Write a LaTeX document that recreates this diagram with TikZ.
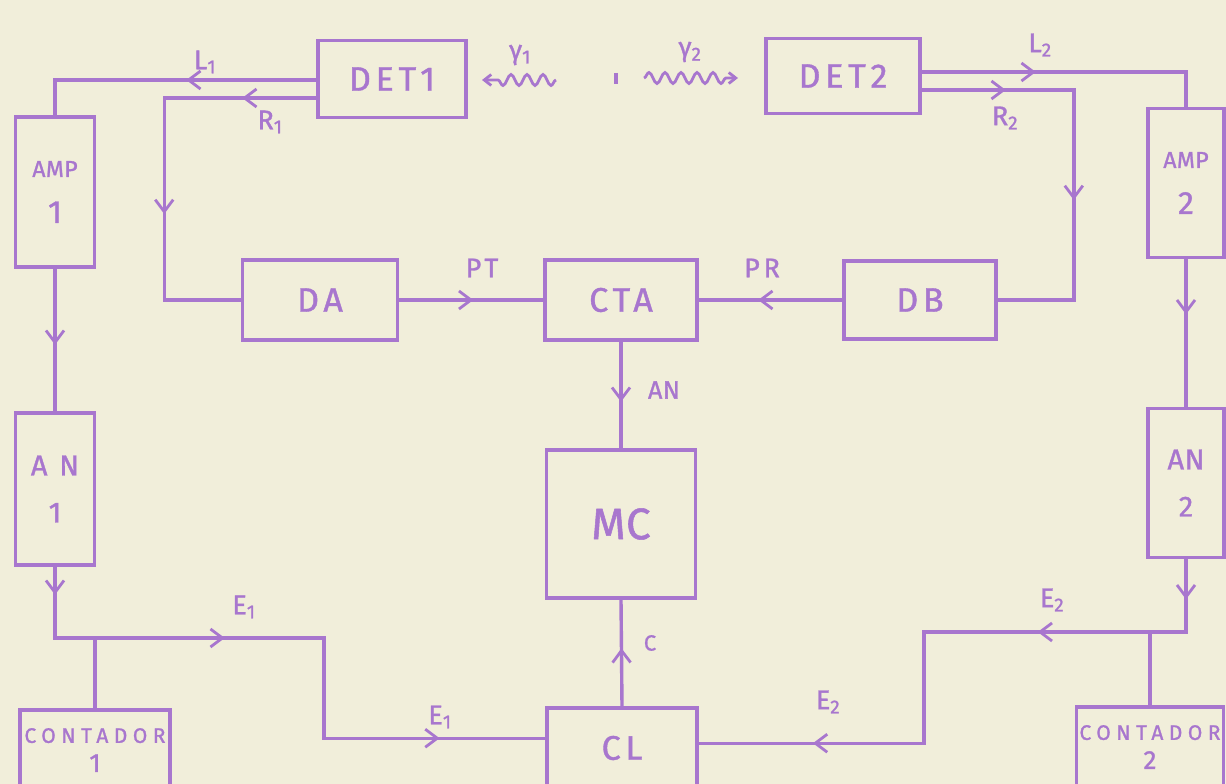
\documentclass[tikz,border=0pt]{standalone}
\usepackage{fontspec}
\newfontfamily\hand{Fira Sans}[LetterSpace=14,FakeBold=1.2]
\newfontfamily\handtight{Fira Sans}[LetterSpace=2,FakeBold=1.2]
\newfontfamily\handwide{Fira Sans}[LetterSpace=26,FakeBold=1.2]
\usetikzlibrary{arrows.meta,decorations.markings,decorations.pathmorphing,calc}
\definecolor{ink}{RGB}{168,118,206}
\definecolor{paper}{RGB}{241,238,218}
\tikzset{
  blk/.style={draw=ink, line width=3.6pt, inner sep=0pt, text=ink, align=center,
    font=\hand\fontsize{34}{36}\selectfont},
  wire/.style={draw=ink, line width=3.4pt},
  lbl/.style={text=ink, inner sep=0pt, font=\hand\fontsize{27}{29}\selectfont},
  marr/.style={postaction={decorate, decoration={markings,
    mark=at position #1 with {\arrow{Straight Barb[length=12pt,width=18pt,line width=2.8pt]}}}}},
  wave/.style={draw=ink, line width=2.8pt, decorate,
    decoration={snake, amplitude=5.5pt, segment length=16pt, post length=10pt}},
}
\begin{document}
\begin{tikzpicture}[x=1pt,y=-1pt]
\useasboundingbox (0,0) rectangle (1226,784);
\fill[paper] (0,0) rectangle (1226,784);
\clip (0,0) rectangle (1226,784);

% blocks
\node[blk, minimum width=148pt, minimum height=77pt] (DET1) at (392,79) {DET1};
\node[blk, minimum width=154pt, minimum height=75pt] (DET2) at (843,76) {DET2};
\node[blk, minimum width=79pt, minimum height=150pt, font=\handtight\fontsize{23}{46}\selectfont] (AMP1) at (55,192) {AMP\\{\fontsize{32}{46}\selectfont 1}};
\node[blk, minimum width=76pt, minimum height=149pt, font=\handtight\fontsize{23}{46}\selectfont] (AMP2) at (1186,183) {AMP\\{\fontsize{32}{46}\selectfont 2}};
\node[blk, minimum width=155pt, minimum height=80pt] (DA) at (320,300) {DA};
\node[blk, minimum width=152pt, minimum height=80pt] (CTA) at (621,300) {CTA};
\node[blk, minimum width=152pt, minimum height=78pt] (DB) at (920,300) {DB};
\node[blk, minimum width=149pt, minimum height=148pt, font=\handtight\fontsize{44}{48}\selectfont] (MC) at (621,524) {MC};
\node[blk, minimum width=79pt, minimum height=152pt, font=\hand\fontsize{29}{47}\selectfont] (AN1) at (55,489) {A N\\1};
\node[blk, minimum width=76pt, minimum height=149pt, font=\handtight\fontsize{29}{47}\selectfont] (AN2) at (1186,483) {AN\\2};
\node[blk, minimum width=150pt, minimum height=80pt] (CL) at (622,748) {CL};
\node[blk, minimum width=150pt, minimum height=80pt, font=\handwide\fontsize{21}{29}\selectfont] (CNT1) at (95,750) {CONTADOR\\{\hand\fontsize{26}{29}\selectfont 1}};
\node[blk, minimum width=147pt, minimum height=80pt, font=\handwide\fontsize{21}{29}\selectfont] (CNT2) at (1150,747) {CONTADOR\\{\hand\fontsize{26}{29}\selectfont 2}};

% junctions and free ends
\coordinate (j1) at (55,638);
\coordinate (k1) at (324,638);
\coordinate (j2) at (1186,632);
\coordinate (k2) at (924,632);
\coordinate (w1s) at (556,80);
\coordinate (w1e) at (482,80);
\coordinate (w2s) at (644,78);
\coordinate (w2e) at (738,78);
\coordinate (srcA) at (616,73);
\coordinate (srcB) at (616,84);

% connectors
\draw[wire, marr=130pt] ($(DET1.west)+(0,1)$) -| (AMP1.north);
\draw[wire, marr=74pt, marr=268pt] ($(DET1.west)+(0,19)$) -- ++(-152,0) |- (DA.west);
\draw[wire, marr=114pt] ($(DET2.east)+(0,-4)$) -| (AMP2.north);
\draw[wire, marr=84pt, marr=262pt] ($(DET2.east)+(0,14)$) -- ++(152,0) |- (DB.east);
\draw[wire, marr=74pt] (DA.east) -- (CTA.west);
\draw[wire, marr=84pt] (DB.west) -- (CTA.east);
\draw[wire, marr=76pt] (AMP1.south) -- (AN1.north);
\draw[wire, marr=55pt] (AMP2.south) -- (AN2.north);
\draw[wire, marr=60pt] (CTA.south) -- (MC.north);
\draw[wire, marr=58pt] (CL.north) -- (MC.south);
\draw[wire, marr=28pt, marr=241pt, marr=556pt] (AN1.south) -- (j1) -- (k1) |- ($(CL.north west)+(0,32)$);
\draw[wire, marr=40pt, marr=221pt, marr=557pt] (AN2.south) -- (j2) -- (k2) |- ($(CL.north east)+(0,37)$);
\draw[wire] (CNT1.north) -- (CNT1.north |- j1);
\draw[wire] (CNT2.north) -- (CNT2.north |- j2);

% radiation
\draw[wave, -{Straight Barb[length=7pt,width=11pt]}] (w1s) -- (w1e);
\draw[wave, -{Straight Barb[length=7pt,width=11pt]}] (w2s) -- (w2e);
\draw[wire] (srcA) -- (srcB);

% labels
\node[lbl] (lL1) at (205,62) {L\textsubscript{1}};
\node[lbl] (lR1) at (270,122) {R\textsubscript{1}};
\node[lbl] (lg1) at (520,55) {γ\textsubscript{1}};
\node[lbl] (lg2) at (690,52) {γ\textsubscript{2}};
\node[lbl] (lL2) at (1040,45) {L\textsubscript{2}};
\node[lbl] (lR2) at (1005,118) {R\textsubscript{2}};
\node[lbl] (lPT) at (482,268) {PT};
\node[lbl] (lPR) at (762,268) {PR};
\node[lbl, font=\handtight\fontsize{25}{27}\selectfont] (lAN) at (664,390) {AN};
\node[lbl, font=\hand\fontsize{22}{24}\selectfont] (lC) at (650,643) {C};
\node[lbl] (lE1a) at (244,607) {E\textsubscript{1}};
\node[lbl] (lE1b) at (440,717) {E\textsubscript{1}};
\node[lbl] (lE2a) at (1052,600) {E\textsubscript{2}};
\node[lbl] (lE2b) at (828,702) {E\textsubscript{2}};
\end{tikzpicture}
\end{document}
